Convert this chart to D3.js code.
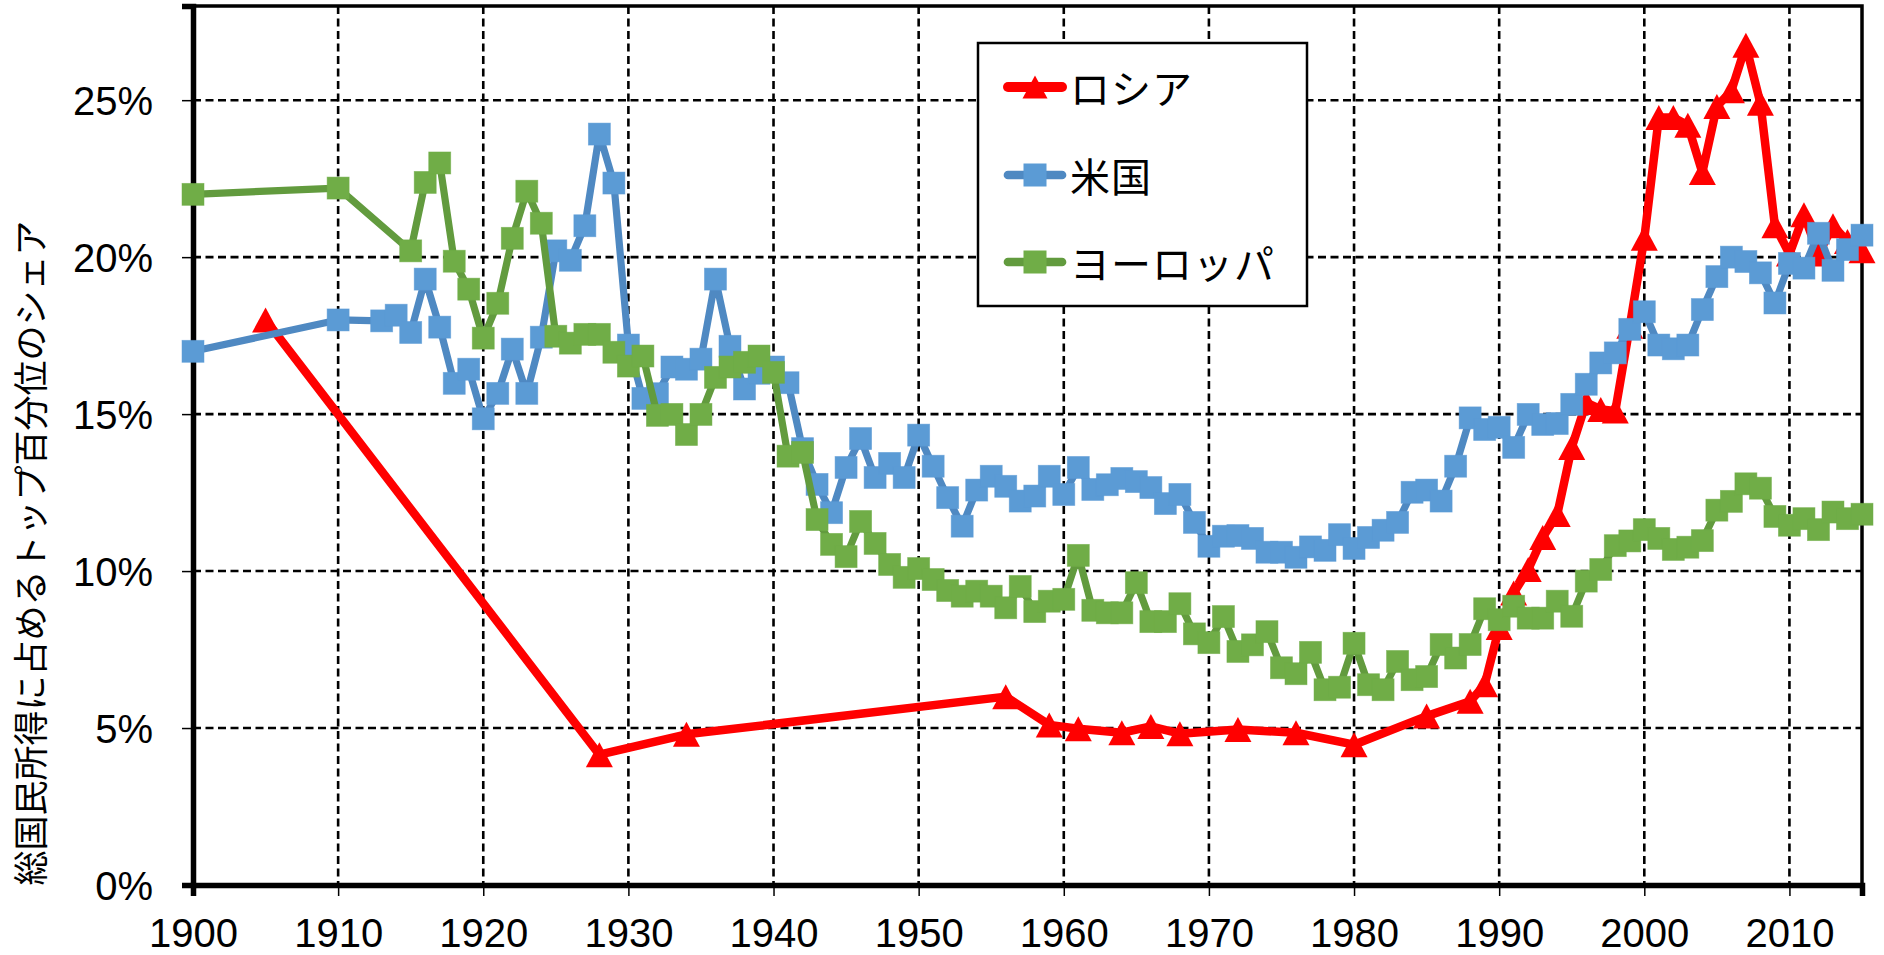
<!DOCTYPE html>
<html><head><meta charset="utf-8">
<script src="https://cdn.jsdelivr.net/npm/d3@7"></script>
<style>
html,body{margin:0;padding:0;background:#fff;}
svg{display:block;}
</style></head>
<body>
<svg id="chart" width="1884" height="955"></svg>
<script>
// ---------- data ----------
const seriesNames = ["ロシア", "米国", "ヨーロッパ"];
const yTicks = [0, 5, 10, 15, 20, 25];
const xTicks = [1900, 1910, 1920, 1930, 1940, 1950, 1960, 1970, 1980, 1990, 2000, 2010];
const yAxisTitle = "総国民所得に占めるトップ百分位のシェア";

const russiaYears = [1905, 1928, 1934, 1956, 1959, 1961, 1964, 1966, 1968, 1972, 1976, 1980, 1985, 1988, 1989,
  1990, 1991, 1992, 1993, 1994, 1995, 1996, 1997, 1998, 1999, 2000, 2001, 2002, 2003, 2004, 2005, 2006, 2007,
  2008, 2009, 2010, 2011, 2012, 2013, 2014, 2015];
const russiaValues = [18.0, 4.15, 4.8, 6.0, 5.1, 4.98, 4.85, 5.05, 4.82, 4.95, 4.85, 4.47, 5.38, 5.85, 6.38,
  8.2, 9.3, 10.05, 11.07, 11.8, 13.94, 15.37, 15.15, 15.1, 17.8, 20.6, 24.45, 24.45, 24.2, 22.7, 24.8, 25.3, 26.75,
  24.9, 21.0, 20.1, 21.35, 20.1, 21.0, 20.5, 20.2];

const usYears = [1900, 1910, 1913, 1914, 1915, 1916, 1917, 1918, 1919,
  1920, 1921, 1922, 1923, 1924, 1925, 1926, 1927, 1928, 1929,
  1930, 1931, 1932, 1933, 1934, 1935, 1936, 1937, 1938, 1939,
  1940, 1941, 1942, 1943, 1944, 1945, 1946, 1947, 1948, 1949,
  1950, 1951, 1952, 1953, 1954, 1955, 1956, 1957, 1958, 1959,
  1960, 1961, 1962, 1963, 1964, 1965, 1966, 1967, 1968, 1969,
  1970, 1971, 1972, 1973, 1974, 1975, 1976, 1977, 1978, 1979,
  1980, 1981, 1982, 1983, 1984, 1985, 1986, 1987, 1988, 1989,
  1990, 1991, 1992, 1993, 1994, 1995, 1996, 1997, 1998, 1999,
  2000, 2001, 2002, 2003, 2004, 2005, 2006, 2007, 2008, 2009,
  2010, 2011, 2012, 2013, 2014, 2015];
const usValues = [17.0, 18.0, 17.97, 18.15, 17.6, 19.3, 17.77, 15.98, 16.43,
  14.85, 15.66, 17.07, 15.66, 17.45, 20.2, 19.9, 21.0, 23.92, 22.36,
  17.2, 15.5, 15.65, 16.5, 16.43, 16.75, 19.3, 17.16, 15.8, 16.3,
  16.5, 16.0, 13.9, 12.76, 11.86, 13.3, 14.22, 12.98, 13.43, 12.98,
  14.33, 13.34, 12.34, 11.43, 12.58, 13.02, 12.7, 12.23, 12.39, 13.02,
  12.44, 13.3, 12.6, 12.75, 12.95, 12.85, 12.66, 12.15, 12.44, 11.55,
  10.79, 11.11, 11.13, 11.04, 10.6, 10.6, 10.44, 10.77, 10.66, 11.16,
  10.72, 11.07, 11.3, 11.55, 12.51, 12.58, 12.23, 13.34, 14.88, 14.51,
  14.58, 13.94, 14.99, 14.67, 14.7, 15.31, 15.95, 16.63, 16.95, 17.7,
  18.26, 17.2, 17.08, 17.2, 18.33, 19.38, 20.0, 19.86, 19.5, 18.54,
  19.8, 19.65, 20.76, 19.58, 20.24, 20.7];

const europeYears = [1900, 1910, 1915, 1916, 1917, 1918, 1919,
  1920, 1921, 1922, 1923, 1924, 1925, 1926, 1927, 1928, 1929,
  1930, 1931, 1932, 1933, 1934, 1935, 1936, 1937, 1938, 1939,
  1940, 1941, 1942, 1943, 1944, 1945, 1946, 1947, 1948, 1949,
  1950, 1951, 1952, 1953, 1954, 1955, 1956, 1957, 1958, 1959,
  1960, 1961, 1962, 1963, 1964, 1965, 1966, 1967, 1968, 1969,
  1970, 1971, 1972, 1973, 1974, 1975, 1976, 1977, 1978, 1979,
  1980, 1981, 1982, 1983, 1984, 1985, 1986, 1987, 1988, 1989,
  1990, 1991, 1992, 1993, 1994, 1995, 1996, 1997, 1998, 1999,
  2000, 2001, 2002, 2003, 2004, 2005, 2006, 2007, 2008, 2009,
  2010, 2011, 2012, 2013, 2014, 2015];
const europeValues = [22.0, 22.2, 20.2, 22.38, 23.0, 19.87, 18.98,
  17.42, 18.53, 20.6, 22.1, 21.08, 17.48, 17.26, 17.54, 17.54, 16.97,
  16.53, 16.85, 14.96, 14.99, 14.35, 14.99, 16.17, 16.5, 16.65, 16.85,
  16.33, 13.66, 13.78, 11.64, 10.85, 10.46, 11.58, 10.88, 10.21, 9.8,
  10.08, 9.73, 9.38, 9.2, 9.36, 9.2, 8.83, 9.51, 8.71, 9.04,
  9.1, 10.5, 8.75, 8.67, 8.67, 9.63, 8.39, 8.39, 8.96, 8.0,
  7.72, 8.55, 7.44, 7.65, 8.07, 6.92, 6.73, 7.41, 6.22, 6.3,
  7.7, 6.38, 6.22, 7.12, 6.54, 6.64, 7.66, 7.23, 7.66, 8.8,
  8.45, 8.88, 8.5, 8.5, 9.04, 8.56, 9.68, 10.05, 10.81, 10.96,
  11.32, 11.04, 10.69, 10.76, 10.97, 11.94, 12.22, 12.78, 12.64, 11.74,
  11.46, 11.67, 11.32, 11.88, 11.67, 11.81];

// ---------- layout ----------
const L = 193, R = 1862, T = 6, B = 885;
const svg = d3.select("#chart");
const x = d3.scaleLinear().domain([1900, 2015]).range([L, R]);
const y = d3.scaleLinear().domain([0, 28]).range([B, T]);
const numFont = "'Liberation Sans', Arial, sans-serif";
const jpFont = "'Noto Sans CJK JP', 'Noto Sans', sans-serif";

// grid
const grid = svg.append("g");
grid.selectAll("line.v").data(xTicks.filter(d => d > 1900)).join("line")
  .attr("x1", d => x(d)).attr("x2", d => x(d)).attr("y1", T).attr("y2", B)
  .attr("stroke", "#000").attr("stroke-width", 2.6).attr("stroke-dasharray", "8,4.5");
grid.selectAll("line.h").data(yTicks.filter(d => d > 0)).join("line")
  .attr("x1", L).attr("x2", R).attr("y1", d => y(d)).attr("y2", d => y(d))
  .attr("stroke", "#000").attr("stroke-width", 2.6).attr("stroke-dasharray", "8,4.5");

// frame
svg.append("rect").attr("x", L).attr("y", T).attr("width", R - L).attr("height", B - T)
  .attr("fill", "none").attr("stroke", "#000").attr("stroke-width", 3.5);

// axes
const xAxis = d3.axisBottom(x).tickValues(xTicks).tickSize(11).tickFormat(d3.format("d"));
const gx = svg.append("g").attr("transform", `translate(0,${B})`).call(xAxis);
gx.select(".domain").attr("stroke", "#000").attr("stroke-width", 5.5);
gx.selectAll(".tick line").attr("stroke", "#000").attr("stroke-width", 1.5);
gx.selectAll(".tick text").attr("font-family", numFont).attr("font-size", 40).attr("fill", "#000")
  .attr("y", 0).attr("dy", 0).attr("transform", "translate(0,62)");

const yAxis = d3.axisLeft(y).tickValues(yTicks).tickSize(11).tickFormat(d => d + "%");
const gy = svg.append("g").attr("transform", `translate(${L},0)`).call(yAxis);
gy.select(".domain").attr("stroke", "#000").attr("stroke-width", 5.5);
gy.selectAll(".tick line").attr("stroke", "#000").attr("stroke-width", 1.5);
gy.selectAll(".tick text").attr("font-family", numFont).attr("font-size", 40).attr("fill", "#000")
  .attr("x", -40).attr("dy", "0.35em");

// y axis title
svg.append("text").attr("transform", "translate(28,553) rotate(-90)")
  .attr("text-anchor", "middle").attr("dominant-baseline", "central")
  .attr("font-family", jpFont).attr("font-size", 35).attr("fill", "#000").text(yAxisTitle);

// ---------- series ----------
const series = [
  { name: seriesNames[0], years: russiaYears, values: russiaValues, line: "#FF0000", marker: "#FF0000", lw: 8.5, shape: "tri" },
  { name: seriesNames[1], years: usYears, values: usValues, line: "#4F89C2", marker: "#5B9BD5", lw: 7.2, shape: "sq" },
  { name: seriesNames[2], years: europeYears, values: europeValues, line: "#629B3E", marker: "#70AD47", lw: 7.2, shape: "sq" }
];
const triPath = (w, h) => `M0,${-h / 2}L${w / 2},${h / 2}L${-w / 2},${h / 2}Z`;
const line = d3.line().x(d => x(d[0])).y(d => y(d[1]));

series.forEach(s => {
  const pts = s.years.map((yr, i) => [yr, s.values[i]]);
  const g = svg.append("g");
  g.append("path").datum(pts).attr("d", line).attr("fill", "none")
    .attr("stroke", s.line).attr("stroke-width", s.lw)
    .attr("stroke-linejoin", "round").attr("stroke-linecap", "round");
  if (s.shape === "sq") {
    g.selectAll("rect").data(pts).join("rect")
      .attr("x", d => x(d[0]) - 11).attr("y", d => y(d[1]) - 11)
      .attr("width", 22).attr("height", 22).attr("fill", s.marker)
      .attr("stroke", s.marker).attr("stroke-width", 0.8).attr("stroke-opacity", 0.6);
  } else {
    g.selectAll("path.m").data(pts).join("path").attr("class", "m")
      .attr("transform", d => `translate(${x(d[0])},${y(d[1])})`)
      .attr("d", triPath(27, 25)).attr("fill", s.marker);
  }
});

// ---------- legend ----------
const lg = svg.append("g");
lg.append("rect").attr("x", 978).attr("y", 43).attr("width", 329).attr("height", 263)
  .attr("fill", "#fff").attr("stroke", "#000").attr("stroke-width", 2.5);
const rowY = [87, 175, 262];
series.forEach((s, i) => {
  const yy = rowY[i];
  lg.append("line").attr("x1", 1008).attr("x2", 1062).attr("y1", yy).attr("y2", yy)
    .attr("stroke", s.line).attr("stroke-width", s.lw + 1.5).attr("stroke-linecap", "round");
  if (s.shape === "sq") {
    lg.append("rect").attr("x", 1035 - 11.5).attr("y", yy - 11.5).attr("width", 23).attr("height", 23)
      .attr("fill", s.marker);
  } else {
    lg.append("path").attr("transform", `translate(1035,${yy})`).attr("d", triPath(25, 23)).attr("fill", s.marker);
  }
  lg.append("text").attr("x", 1070).attr("y", yy).attr("dominant-baseline", "central")
    .attr("font-family", jpFont).attr("font-size", 40).attr("fill", "#000")
    .attr("letter-spacing", 1).text(s.name);
});
</script>
</body></html>
